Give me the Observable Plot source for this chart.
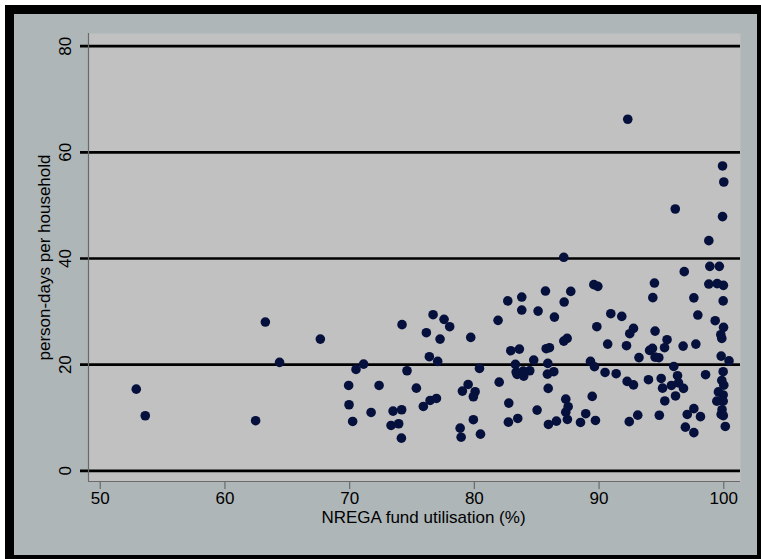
<!DOCTYPE html>
<html>
<head>
<meta charset="utf-8">
<script src="https://cdn.jsdelivr.net/npm/d3@7"></script>
<script src="https://cdn.jsdelivr.net/npm/@observablehq/plot@0.6"></script>
<style>
  html, body { margin: 0; padding: 0; background: #ffffff; }
  #wrap { position: relative; width: 761px; height: 559px; overflow: hidden; }
  #frame { position: absolute; left: 5px; top: 5px; width: 743px; height: 541px;
           border: 9px solid #000000; background: #aeb6b8; }
  #chart { position: absolute; left: 0; top: 0; }
  #chart svg { background: transparent; }
</style>
</head>
<body>
<div id="wrap"><div id="frame"></div><div id="chart"></div></div>
<script>
// NREGA fund utilisation (%)
const utilisation = [
  63.24, 64.38, 52.89, 53.61, 62.46, 67.65,
  71.12, 70.51, 69.92, 69.95, 70.24, 71.72, 72.36, 74.20, 74.60, 75.35,
  73.48, 74.17, 73.32, 73.93, 74.15, 75.91, 76.45, 76.96, 76.15, 76.69,
  77.57, 78.02, 77.25, 76.39, 77.06, 79.71, 80.41, 79.50, 79.04, 80.06,
  79.92, 81.99, 79.92, 78.86, 78.94, 80.49, 81.90,
  92.30, 99.90, 100.00, 96.11, 99.90, 98.80, 87.17, 98.88, 99.64, 96.83,
  94.44, 98.80, 99.47, 99.97, 89.58, 89.90, 94.31, 97.60, 99.95, 82.68,
  83.80, 83.80, 85.70, 87.73, 87.20, 85.11, 86.42, 90.94, 91.82, 97.92,
  99.31, 99.98, 89.82, 92.76, 92.46, 94.49, 99.76, 99.84, 87.44, 87.17,
  86.02, 85.76, 83.61, 82.92, 90.69, 92.20, 95.45, 95.25, 96.74, 97.76,
  94.05, 94.28, 94.49, 94.79, 93.20, 99.79, 100.42, 84.76, 85.89, 83.29,
  89.31, 89.63, 95.99, 83.35, 83.43, 83.96, 83.91, 84.44, 85.86, 86.37,
  85.92, 90.48, 91.37, 92.25, 92.76, 93.96, 94.98, 95.09, 95.80, 96.29,
  96.37, 96.77, 96.13, 95.27, 98.54, 99.95, 99.84, 100.00, 99.57, 99.95,
  99.44, 99.95, 99.86, 99.79, 99.96, 100.12, 97.60, 97.07, 98.13, 96.92,
  97.60, 94.83, 93.10, 92.42, 89.45, 88.93, 89.71, 88.51, 87.33, 87.52,
  87.33, 87.46, 86.58, 85.94, 85.03, 82.76, 82.73, 83.48
];
// person-days per household
const personDays = [
  28.02, 20.42, 15.38, 10.37, 9.43, 24.81,
  20.10, 19.10, 16.08, 12.44, 9.29, 10.99, 16.08, 27.53, 18.85, 15.57,
  11.24, 11.50, 8.54, 8.86, 6.15, 12.12, 13.25, 13.63, 26.02, 29.41,
  28.53, 27.15, 24.81, 21.49, 20.61, 25.13, 19.29, 16.27, 15.01, 14.89,
  13.95, 16.70, 9.62, 8.03, 6.33, 6.90, 28.34,
  66.23, 57.43, 54.41, 49.32, 47.89, 43.36, 40.22, 38.52, 38.52, 37.52,
  35.37, 35.18, 35.26, 34.94, 35.07, 34.75, 32.62, 32.58, 32.01, 32.01,
  32.73, 30.28, 33.86, 33.80, 31.79, 30.09, 28.96, 29.60, 29.09, 29.34,
  28.28, 27.02, 27.15, 26.83, 25.83, 26.32, 25.64, 24.94, 24.94, 24.43,
  23.19, 23.00, 22.93, 22.62, 23.87, 23.57, 24.70, 23.19, 23.49, 23.87,
  22.68, 23.06, 21.42, 21.30, 21.32, 21.61, 20.70, 20.85, 20.23, 20.04,
  20.61, 19.61, 19.66, 18.59, 18.16, 17.84, 18.78, 18.85, 18.21, 18.67,
  15.52, 18.53, 18.29, 16.84, 16.18, 17.16, 17.40, 15.57, 16.08, 17.91,
  16.55, 15.52, 14.10, 13.16, 18.10, 18.67, 17.02, 16.12, 14.86, 14.29,
  13.12, 13.12, 11.50, 10.61, 10.39, 8.35, 11.71, 10.61, 10.20, 8.22,
  7.18, 10.46, 10.48, 9.26, 14.01, 10.75, 9.48, 9.11, 13.50, 12.07,
  11.05, 9.67, 9.35, 8.73, 11.43, 12.75, 9.16, 9.86
];
const xTicks = [50, 60, 70, 80, 90, 100];
const yTicks = [0, 20, 40, 60, 80];
const xTitle = "NREGA fund utilisation (%)";
const yTitle = "person-days per household";

const data = utilisation.map((u, i) => ({u, p: personDays[i]}));
const font = "'Liberation Sans', Arial, sans-serif";
const xDom = [49.06, 101.34];
const yDom = [-2.02, 82.39];

const chart = Plot.plot({
  width: 761,
  height: 559,
  marginLeft: 88,
  marginRight: 21,
  marginTop: 33,
  marginBottom: 78,
  style: {fontFamily: font, background: "transparent", overflow: "visible"},
  x: {domain: xDom, axis: null},
  y: {domain: yDom, axis: null},
  marks: [
    Plot.frame({fill: "#c1c1c1", stroke: "none"}),
    Plot.ruleY(yTicks, {stroke: "#000000", strokeWidth: 2.7, insetLeft: -8}),
    Plot.ruleX([xDom[0]], {stroke: "#6a6a6a", strokeWidth: 1.2}),
    Plot.ruleY([yDom[0]], {stroke: "#6a6a6a", strokeWidth: 1.2}),
    Plot.ruleX(xTicks, {stroke: "#6a6a6a", strokeWidth: 1.2, insetTop: 448, insetBottom: -8}),
    Plot.text(xTicks, {x: d => d, text: d => String(d), frameAnchor: "bottom", dy: 22,
      fontSize: 17, fill: "#000000"}),
    Plot.text(yTicks, {x: xDom[0], y: d => d, text: d => String(d), rotate: -90, dx: -23,
      fontSize: 17, fill: "#000000", textAnchor: "middle"}),
    Plot.text([xTitle], {text: d => d, frameAnchor: "bottom", dx: 9, dy: 41, fontSize: 17, fill: "#000000"}),
    Plot.text([yTitle], {text: d => d, frameAnchor: "left", rotate: -90, dx: -44, fontSize: 17,
      fill: "#000000", textAnchor: "middle"}),
    Plot.dot(data, {x: "u", y: "p", r: 4.8, fill: "#06103c", stroke: "none"})
  ]
});
document.getElementById("chart").appendChild(chart);
</script>
</body>
</html>
